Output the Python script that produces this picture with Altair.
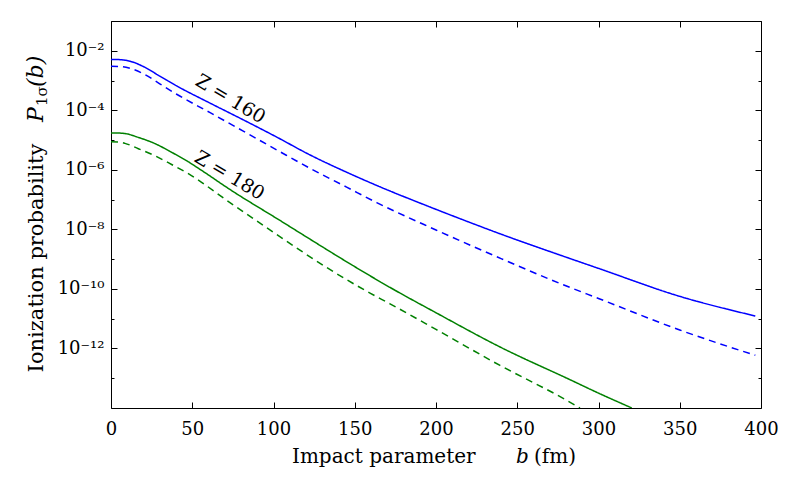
import altair as alt
import pandas as pd

# ---- data (log10 of the ionization probability) ----
b_160_full = [0, 6, 11.7, 19.9, 30, 40.4, 61, 81.4, 102, 122.5, 145, 165.5, 195, 221, 240, 282.5, 300, 350, 396.5]
lg_160_full = [-2.29, -2.30, -2.35, -2.53, -2.85, -3.18, -3.76, -4.32, -4.90, -5.50, -6.08, -6.57, -7.22, -7.77, -8.16, -8.98, -9.31, -10.25, -10.91]

b_160_dash = [0, 6, 11.7, 19.9, 30, 40.4, 61, 81.4, 102, 122.5, 145, 163.5, 200, 240.4, 278.3, 300, 350, 396.5]
lg_160_dash = [-2.52, -2.53, -2.59, -2.77, -3.11, -3.46, -4.08, -4.70, -5.33, -5.95, -6.58, -7.10, -8.02, -8.99, -9.86, -10.32, -11.38, -12.23]

b_180_full = [0, 5, 8.6, 16.8, 27.1, 37.3, 47.6, 55.8, 73.2, 104, 122.5, 149, 171.7, 200, 239.4, 282.5, 300, 320.5]
lg_180_full = [-4.76, -4.765, -4.78, -4.91, -5.12, -5.41, -5.73, -6.02, -6.66, -7.70, -8.33, -9.22, -9.95, -10.80, -11.95, -13.05, -13.50, -14.0]

b_180_dash = [0, 5, 8.6, 16.8, 27.1, 37.3, 47.6, 73.2, 100, 132.7, 159.4, 171.7, 200, 239.4, 279.4, 288.6]
lg_180_dash = [-5.06, -5.07, -5.11, -5.29, -5.53, -5.82, -6.13, -7.10, -8.10, -9.28, -10.14, -10.50, -11.36, -12.57, -13.71, -14.0]

series_names = ["Z160 full", "Z160 dashed", "Z180 full", "Z180 dashed"]
series_Z = ["160", "160", "180", "180"]
series_kind = ["full", "dashed", "full", "dashed"]
series_b = [b_160_full, b_160_dash, b_180_full, b_180_dash]
series_lg = [lg_160_full, lg_160_dash, lg_180_full, lg_180_dash]

label_texts = ["Z = 160", "Z = 180"]
label_b = [73.5, 73.0]
label_lg = [-3.62, -6.19]

x_ticks = [0, 50, 100, 150, 200, 250, 300, 350, 400]
y_major_exp = [-2, -4, -6, -8, -10, -12]
y_minor_exp = [-1, -3, -5, -7, -9, -11, -13]

# ---- build tables ----
rows = []
for name, z, kind, bs, lgs in zip(series_names, series_Z, series_kind, series_b, series_lg):
    for b, lg in zip(bs, lgs):
        rows.append({"b": b, "P": 10.0 ** lg, "series": name, "Z": z, "kind": kind})
df = pd.DataFrame(rows)

df_lab = pd.DataFrame({"b": label_b, "P": [10.0 ** v for v in label_lg], "text": label_texts})

y_major = [10.0 ** e for e in y_major_exp]
y_minor = [10.0 ** e for e in y_minor_exp]

sup = {"0": "\u2070", "1": "\u00b9", "2": "\u00b2", "3": "\u00b3", "4": "\u2074",
       "5": "\u2075", "6": "\u2076", "7": "\u2077", "8": "\u2078", "9": "\u2079", "-": "\u207b"}
expr = ""
for e in y_major_exp:
    s = "10" + "".join(sup[c] for c in str(e))
    expr += f"round(log(datum.value)/LN10) == {e} ? '{s}' : "
expr += "''"

FONT = "DejaVu Serif"
xscale = alt.Scale(domain=[0, 400], nice=False, zero=False)
yscale = alt.Scale(type="log", domain=[1e-14, 1e-1], nice=False)

def tick_axis(orient, values, size):
    return alt.Axis(orient=orient, values=values, labels=False, ticks=True,
                    tickSize={"expr": str(-size)}, tickColor="black", tickWidth=1,
                    domain=False, grid=False, title=None)

lines = alt.Chart(df).mark_line(clip=True, strokeWidth=1.5, interpolate="monotone").encode(
    x=alt.X("b:Q", scale=xscale,
            axis=alt.Axis(orient="bottom", values=x_ticks, ticks=False, domain=False, grid=False,
                          title=None, labelFont=FONT, labelFontSize=18, labelPadding=12,
                          labelColor="black", labelFlush=False)),
    y=alt.Y("P:Q", scale=yscale,
            axis=alt.Axis(orient="left", values=y_major, ticks=False, domain=False, grid=False,
                          title=None, labelFont=FONT, labelFontSize=18, labelPadding=7,
                          labelColor="black", labelExpr=expr, labelFlush=False)),
    color=alt.Color("Z:N", scale=alt.Scale(domain=["160", "180"], range=["#0000ff", "#008000"]), legend=None),
    strokeDash=alt.StrokeDash("kind:N", scale=alt.Scale(domain=["full", "dashed"], range=[[1, 0], [7, 5]]), legend=None),
    detail="series:N",
)

def ghost(xaxis, yaxis):
    return alt.Chart(df).mark_line(opacity=0).encode(
        x=alt.X("b:Q", scale=xscale, axis=xaxis),
        y=alt.Y("P:Q", scale=yscale, axis=yaxis),
    )

g1 = ghost(tick_axis("bottom", x_ticks, 6), tick_axis("left", y_major, 6))
g2 = ghost(tick_axis("top", x_ticks, 6), tick_axis("left", y_minor, 3))
g3 = ghost(None, tick_axis("right", y_major, 6))
g4 = ghost(None, tick_axis("right", y_minor, 3))

zlabels = alt.Chart(df_lab).mark_text(angle=31, font=FONT, fontSize=19, align="center",
                                      baseline="middle", color="black").encode(
    x=alt.X("b:Q", scale=xscale, axis=None),
    y=alt.Y("P:Q", scale=yscale, axis=None),
    text="text:N",
)

def note(text, x, y, size=20, angle=0, style="normal", align="left"):
    kw = dict(font=FONT, fontSize=size, align=align, baseline="alphabetic", color="black",
              fontStyle=style)
    if angle:
        kw["angle"] = angle
    return alt.Chart(pd.DataFrame({"t": [text]})).mark_text(**kw).encode(
        x=alt.value(x), y=alt.value(y), text="t:N")

ytitle = note("Ionization probability", -68, 237, size=21, angle=270, align="center")
yP = note("P", -68, 101, size=22, angle=270, style="italic")
ysub = note("1\u03c3", -64, 85, size=15, angle=270)
yb = note("(b)", -68, 66, size=22, angle=270, style="italic")
xtitle = note("Impact parameter", 181, 442)
xb = note("b", 405, 442, style="italic")
xfm = note("(fm)", 423, 442)

chart = alt.layer(lines, g1, g2, g3, g4, zlabels, ytitle, yP, ysub, yb, xtitle, xb, xfm).resolve_axis(
    x="independent", y="independent"
).properties(
    width=650, height=387,
    autosize=alt.AutoSizeParams(type="none"),
    padding={"left": 103, "top": 13, "right": 25, "bottom": 70},
).configure_view(stroke="black", strokeWidth=1)

chart.save("out.html", embed_options={"renderer": "svg", "actions": False})
